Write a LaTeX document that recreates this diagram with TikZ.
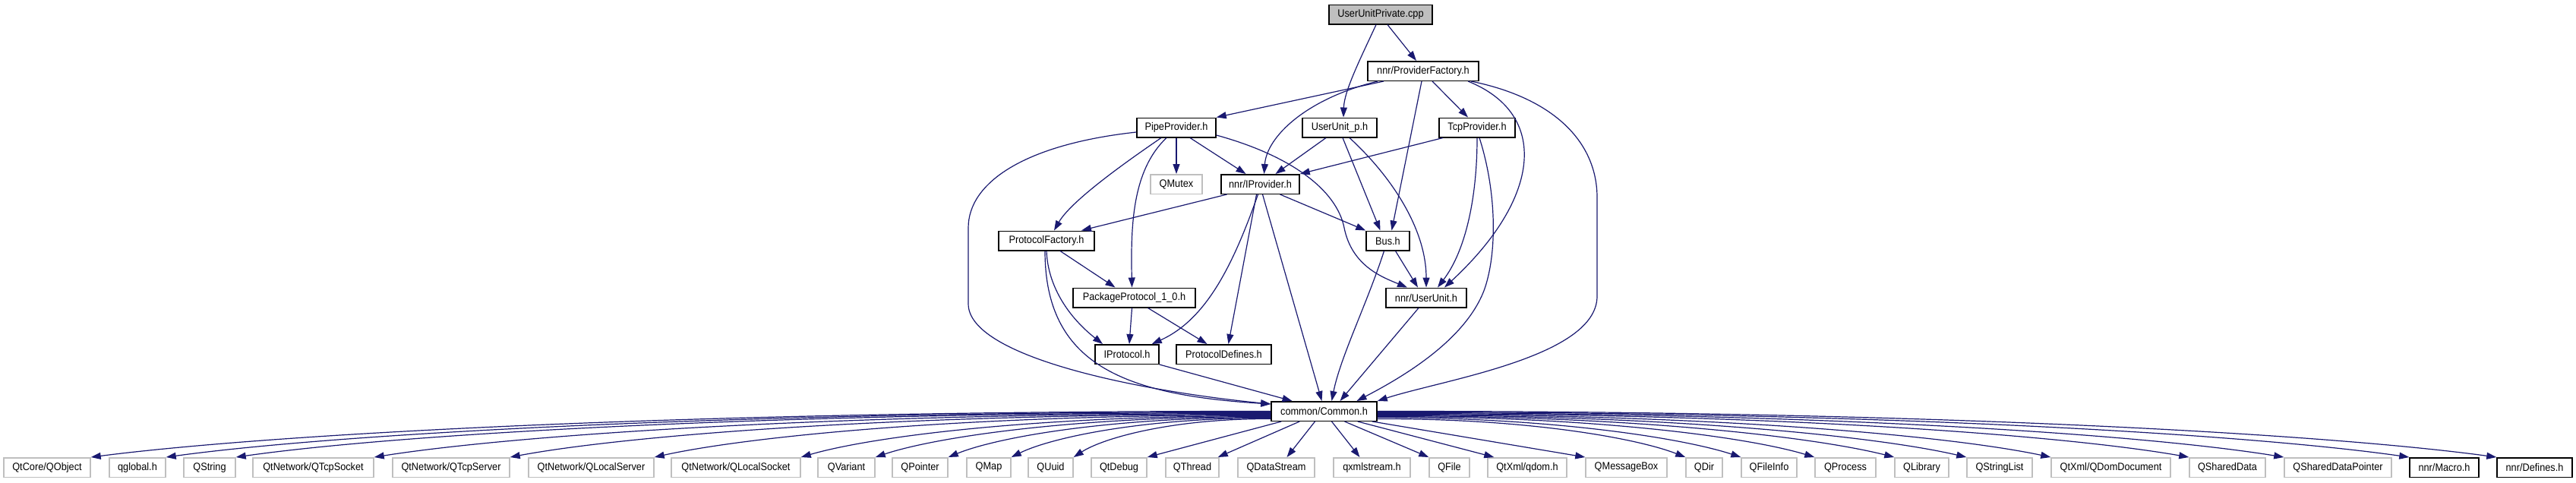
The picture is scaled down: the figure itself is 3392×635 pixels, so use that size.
\documentclass[tikz,border=0pt]{standalone}
\usepackage{fontspec}
\setmainfont{Liberation Sans}[FakeStretch=0.91]
\usetikzlibrary{arrows.meta}
\definecolor{edgeblue}{HTML}{191970}
\definecolor{lightgrey}{HTML}{BFBFBF}
\tikzset{
  box/.style={draw=black, line width=1.5pt, fill=white, minimum height=25.5pt, inner sep=0pt, font=\fontsize{14pt}{16pt}\selectfont, text=black},
  gbox/.style={box, draw=lightgrey},
  rootbox/.style={box, fill=lightgrey},
  edge/.style={draw=edgeblue, line width=1.2pt, -{Triangle[length=13pt,width=9pt]}, fill=none},
}
\begin{document}
\begin{tikzpicture}[x=1pt, y=-1pt]
\useasboundingbox (0,0) rectangle (3392,635);
\fill[white] (0,0) rectangle (3392,635);
% upper nodes
\node[rootbox, minimum width=136pt] (root) at (1818,19) {UserUnitPrivate.cpp};
\node[box, minimum width=146pt] (pf) at (1874,93.5) {nnr/ProviderFactory.h};
\node[box, minimum width=104pt] (pipe) at (1549,168) {PipeProvider.h};
\node[box, minimum width=98pt] (uup) at (1764,168) {UserUnit\_p.h};
\node[box, minimum width=100pt] (tcp) at (1945,168) {TcpProvider.h};
\node[gbox, minimum width=68pt] (qmutex) at (1549,242.5) {QMutex};
\node[box, minimum width=103pt] (iprov) at (1659.5,242.5) {nnr/IProvider.h};
\node[box, minimum width=126pt] (pfac) at (1378,317) {ProtocolFactory.h};
\node[box, minimum width=57pt] (bus) at (1827.5,317) {Bus.h};
\node[box, minimum width=161pt] (pkg) at (1493.5,392) {PackageProtocol\_1\_0.h};
\node[box, minimum width=106pt] (uu) at (1878,392) {nnr/UserUnit.h};
\node[box, minimum width=84pt] (iproto) at (1484,466.5) {IProtocol.h};
\node[box, minimum width=125pt] (pdef) at (1611.5,466.5) {ProtocolDefines.h};
\node[box, minimum width=139pt] (cc) at (1743.5,541.5) {common/Common.h};
% bottom row
\node[gbox, minimum width=114pt] (b1) at (62,615.5) {QtCore/QObject};
\node[gbox, minimum width=74pt] (b2) at (181,615.5) {qglobal.h};
\node[gbox, minimum width=68pt] (b3) at (276,615.5) {QString};
\node[gbox, minimum width=159pt] (b4) at (412.5,615.5) {QtNetwork/QTcpSocket};
\node[gbox, minimum width=154pt] (b5) at (594,615.5) {QtNetwork/QTcpServer};
\node[gbox, minimum width=165pt] (b6) at (778.5,615.5) {QtNetwork/QLocalServer};
\node[gbox, minimum width=170pt] (b7) at (969,615.5) {QtNetwork/QLocalSocket};
\node[gbox, minimum width=75pt] (b8) at (1114.5,615.5) {QVariant};
\node[gbox, minimum width=73pt] (b9) at (1211.5,615.5) {QPointer};
\node[gbox, minimum width=58pt] (b10) at (1302,615.5) {QMap};
\node[gbox, minimum width=59pt] (b11) at (1383.5,615.5) {QUuid};
\node[gbox, minimum width=73pt] (b12) at (1473.5,615.5) {QtDebug};
\node[gbox, minimum width=70pt] (b13) at (1570,615.5) {QThread};
\node[gbox, minimum width=101pt] (b14) at (1680.5,615.5) {QDataStream};
\node[gbox, minimum width=101pt] (b15) at (1806.5,615.5) {qxmlstream.h};
\node[gbox, minimum width=53pt] (b16) at (1908.5,615.5) {QFile};
\node[gbox, minimum width=104pt] (b17) at (2011,615.5) {QtXml/qdom.h};
\node[gbox, minimum width=107pt] (b18) at (2141.5,615.5) {QMessageBox};
\node[gbox, minimum width=48pt] (b19) at (2244,615.5) {QDir};
\node[gbox, minimum width=73pt] (b20) at (2329.5,615.5) {QFileInfo};
\node[gbox, minimum width=80pt] (b21) at (2430,615.5) {QProcess};
\node[gbox, minimum width=71pt] (b22) at (2530.5,615.5) {QLibrary};
\node[gbox, minimum width=86pt] (b23) at (2633,615.5) {QStringList};
\node[gbox, minimum width=157pt] (b24) at (2779.5,615.5) {QtXml/QDomDocument};
\node[gbox, minimum width=100pt] (b25) at (2933,615.5) {QSharedData};
\node[gbox, minimum width=141pt] (b26) at (3078.5,615.5) {QSharedDataPointer};
\node[box, minimum width=91pt] (b27) at (3218.5,615.5) {nnr/Macro.h};
\node[box, minimum width=99pt] (b28) at (3337.5,615.5) {nnr/Defines.h};
% upper edges
\draw[edge] ([xshift=9]root.south) -- ([xshift=-9]pf.north);
\draw[edge] ([xshift=-6]root.south) .. controls (1790,80) and (1770,120) .. ([xshift=5]uup.north);
\draw[edge] ([xshift=-52]pf.south) -- (pipe.north east);
\draw[edge] ([xshift=-60]pf.south) .. controls (1720,130) and (1668,180) .. ([xshift=5]iprov.north);
\draw[edge] ([xshift=-2]pf.south) -- ([xshift=5]bus.north);
\draw[edge] ([xshift=12]pf.south) -- ([xshift=-12]tcp.north);
\draw[edge] ([xshift=59]pf.south) .. controls (2040,150) and (2030,260) .. ([xshift=24]uu.north);
\draw[edge] ([xshift=63]pf.south) .. controls (2050,130) and (2103,190) .. (2103,260) -- (2103,390) .. controls (2103,470) and (1900,500) .. (cc.north east);
\draw[edge] (pipe.south) -- (qmutex.north);
\draw[edge] ([xshift=18]pipe.south) -- ([xshift=-19]iprov.north);
\draw[edge] ([xshift=-20]pipe.south) .. controls (1480,215) and (1410,265) .. ([xshift=10]pfac.north);
\draw[edge] ([xshift=-13]pipe.south) .. controls (1490,225) and (1489,300) .. ([xshift=-3]pkg.north);
\draw[edge] ([yshift=-6]pipe.west) .. controls (1350,190) and (1275,240) .. (1275,300) -- (1275,400) .. controls (1275,470) and (1500,515) .. ([yshift=-4]cc.north west);
\draw[edge] ([yshift=-10]pipe.east) .. controls (1700,205) and (1760,250) .. (1770,300) .. controls (1780,350) and (1820,365) .. ([xshift=-25]uu.north);
\draw[edge] ([xshift=-18]uup.south) -- ([xshift=20]iprov.north);
\draw[edge] ([xshift=4]uup.south) -- ([xshift=-10]bus.north);
\draw[edge] ([xshift=13]uup.south) .. controls (1830,230) and (1878,300) .. (uu.north);
\draw[edge] ([xshift=-45]tcp.south) -- (iprov.north east);
\draw[edge] (tcp.south) .. controls (1945,260) and (1930,330) .. ([xshift=15]uu.north);
\draw[edge] ([xshift=3]tcp.south) .. controls (1970,250) and (1972,330) .. (1955,380) .. controls (1930,450) and (1840,500) .. ([xshift=43]cc.north);
\draw[edge] ([xshift=-44]iprov.south) -- ([xshift=46]pfac.north);
\draw[edge] ([xshift=26]iprov.south) -- (bus.north west);
\draw[edge] ([xshift=-3]iprov.south) .. controls (1625,345) and (1590,420) .. ([xshift=-10]iproto.north east);
\draw[edge] ([xshift=-5]iprov.south) -- ([xshift=6]pdef.north);
\draw[edge] ([xshift=3]iprov.south) -- ([xshift=-3]cc.north);
\draw[edge] ([xshift=18]pfac.south) -- ([xshift=-25]pkg.north);
\draw[edge] (pfac.south) .. controls (1380,380) and (1410,420) .. ([xshift=-32]iproto.north);
\draw[edge] ([xshift=-2]pfac.south) .. controls (1376,480) and (1480,520) .. ([yshift=-4]cc.north west);
\draw[edge] ([xshift=10]bus.south) -- ([xshift=-11]uu.north);
\draw[edge] ([xshift=-5]bus.south) .. controls (1800,400) and (1765,470) .. ([xshift=10]cc.north);
\draw[edge] ([xshift=-3]pkg.south) -- ([xshift=3]iproto.north);
\draw[edge] ([xshift=18]pkg.south) -- ([xshift=-22]pdef.north);
\draw[edge] (iproto.south east) -- ([xshift=-42]cc.north);
\draw[edge] ([xshift=-10]uu.south) -- ([xshift=21]cc.north);
% edges from common/Common.h, left group
\draw[edge] (cc.west) .. controls (897,541) and (353,572) .. (b1.north east);
\draw[edge] ([yshift=-1]cc.west) .. controls (947,542) and (437,572) .. (b2.north east);
\draw[edge] ([yshift=-2]cc.west) .. controls (991,543) and (514,573) .. (b3.north east);
\draw[edge] ([yshift=-3]cc.west) .. controls (1083,544) and (669,574) .. (b4.north east);
\draw[edge] ([yshift=-4]cc.west) .. controls (1172,545) and (821,574) .. (b5.north east);
\draw[edge] ([yshift=-5]cc.west) .. controls (1268,546) and (984,575) .. (b6.north east);
\draw[edge] ([yshift=-6]cc.west) .. controls (1364,547) and (1147,575) .. (b7.north east);
\draw[edge] ([yshift=-7]cc.west) .. controls (1413,548) and (1230,576) .. (b8.north east);
\draw[edge] ([yshift=-8]cc.west) .. controls (1461,549) and (1312,576) .. (b9.north east);
\draw[edge] ([yshift=-9]cc.west) .. controls (1502,550) and (1382,577) .. (b10.north east);
\draw[edge] ([yshift=-10]cc.west) .. controls (1543,551) and (1452,577) .. (b11.north east);
% near group
\draw[edge] ([xshift=14]cc.south west) -- (b12.north east);
\draw[edge] ([xshift=38]cc.south west) -- ([xshift=-2]b13.north east);
\draw[edge] ([xshift=-12]cc.south) -- ([xshift=14]b14.north);
\draw[edge] ([xshift=10]cc.south) -- ([xshift=-16]b15.north);
\draw[edge] ([xshift=27]cc.south) -- (b16.north west);
\draw[edge] ([xshift=-26]cc.south east) -- ([xshift=9]b17.north west);
\draw[edge] ([xshift=-7]cc.south east) -- (b18.north west);
% right group
\draw[edge] ([yshift=-10]cc.east) .. controls (2016,551) and (2158,578) .. (b19.north west);
\draw[edge] ([yshift=-8]cc.east) .. controls (2052,550) and (2219,578) .. (b20.north west);
\draw[edge] ([yshift=-7]cc.east) .. controls (2102,548) and (2303,576) .. (b21.north west);
\draw[edge] ([yshift=-6]cc.east) .. controls (2153,547) and (2391,576) .. (b22.north west);
\draw[edge] ([yshift=-5]cc.east) .. controls (2202,546) and (2473,575) .. (b23.north west);
\draw[edge] ([yshift=-4]cc.east) .. controls (2257,545) and (2568,574) .. (b24.north west);
\draw[edge] ([yshift=-3]cc.east) .. controls (2348,544) and (2722,574) .. (b25.north west);
\draw[edge] ([yshift=-2]cc.east) .. controls (2411,543) and (2829,573) .. (b26.north west);
\draw[edge] ([yshift=-1]cc.east) .. controls (2493,542) and (2969,573) .. (b27.north west);
\draw[edge] (cc.east) .. controls (2551,541) and (3067,572) .. (b28.north west);
\end{tikzpicture}
\end{document}
